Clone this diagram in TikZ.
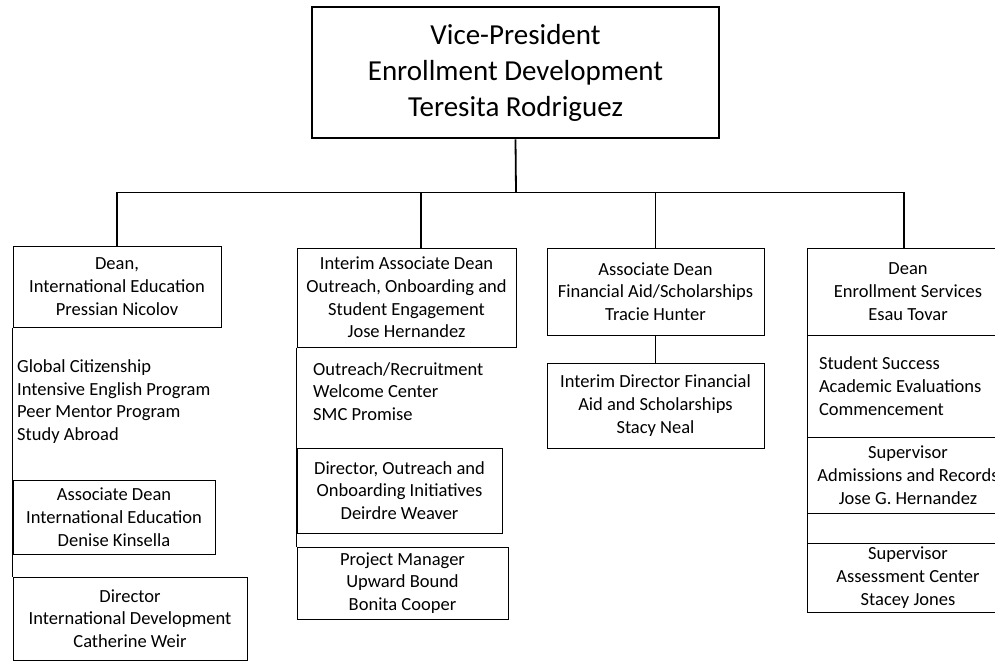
\documentclass[tikz,border=0pt]{standalone}
\usepackage{fontspec}
\setmainfont{Carlito}
\begin{document}
\begin{tikzpicture}[x=1pt,y=-1pt,
  box/.style={draw=black,line width=1pt,inner sep=0pt,align=center,
    font=\fontsize{18.5}{22.7}\selectfont},
  toptext/.style={font=\fontsize{29}{36}\selectfont},
  listtext/.style={inner sep=0pt,align=left,anchor=west,
    font=\fontsize{18.5}{22.7}\selectfont},
  conn/.style={line width=1.2pt},
  bigconn/.style={line width=1.8pt}]
\useasboundingbox (0,0) rectangle (995,662);
% top
\node[box,line width=2.6pt,toptext,minimum width=407,minimum height=131] (vp) at (515.5,72.5)
  {Vice-President\\Enrollment Development\\Teresita Rodriguez};
\coordinate (bus) at (516,192.5);
% column 1
\node[box,minimum width=208,minimum height=81] (d1) at (117,286.5)
  {Dean,\\International Education\\Pressian Nicolov};
\node[listtext] (l1) at (17,401.5)
  {Global Citizenship\\Intensive English Program\\Peer Mentor Program\\Study Abroad};
\node[box,minimum width=202,minimum height=74] (d2) at (114,517)
  {Associate Dean\\International Education\\Denise Kinsella};
\node[box,minimum width=234,minimum height=83] (d3) at (130,618.5)
  {Director\\International Development\\Catherine Weir};
% column 2
\node[box,minimum width=219,minimum height=99] (dA) at (406.5,297.5)
  {Interim Associate Dean\\Outreach, Onboarding and\\Student Engagement\\Jose Hernandez};
\node[listtext] (l2) at (313,391.5)
  {Outreach/Recruitment\\Welcome Center\\SMC Promise};
\node[box,minimum width=205,minimum height=85] (dC) at (399.5,490.5)
  {Director, Outreach and\\Onboarding Initiatives\\Deirdre Weaver};
\node[box,minimum width=211,minimum height=72] (dD) at (402.5,583)
  {Project Manager\\Upward Bound\\Bonita Cooper};
% column 3
\node[box,minimum width=217,minimum height=87] (dE) at (655.5,291.5)
  {Associate Dean\\Financial Aid/Scholarships\\Tracie Hunter};
\node[box,minimum width=217,minimum height=85] (dF) at (655.5,405.5)
  {Interim Director Financial\\Aid and Scholarships\\Stacy Neal};
% column 4
\node[box,minimum width=202,minimum height=87] (dG) at (908,291.5)
  {Dean\\Enrollment Services\\Esau Tovar};
\node[box,minimum width=202,minimum height=102,text width=178,inner xsep=12pt,align=flush left] (dH) at (908,386)
  {Student Success\\Academic Evaluations\\Commencement};
\node[box,minimum width=202,minimum height=76] (dI) at (908,475)
  {Supervisor\\Admissions and Records\\Jose G. Hernandez};
\node[box,minimum width=202,minimum height=30] (dJ) at (908,528) {};
\node[box,minimum width=202,minimum height=69] (dK) at (908,577.5)
  {Supervisor\\Assessment Center\\Stacey Jones};
% connectors
\draw[bigconn] (vp.south) -- (bus);
\draw[conn] (d1.north) |- (bus);
\draw[conn] ([xshift=-4pt]dG.north) |- (bus);
\draw[conn] ([xshift=14.5pt]dA.north) -- ([xshift=14.5pt]dA.north |- bus);
\draw[conn] (dE.north) -- (dE.north |- bus);
\draw[conn] (dE.south) -- (dF.north);
\draw[conn] (d1.south west) -- (d3.north west);
\draw[conn] (dA.south west) -- (dD.north west);
\end{tikzpicture}
\end{document}
